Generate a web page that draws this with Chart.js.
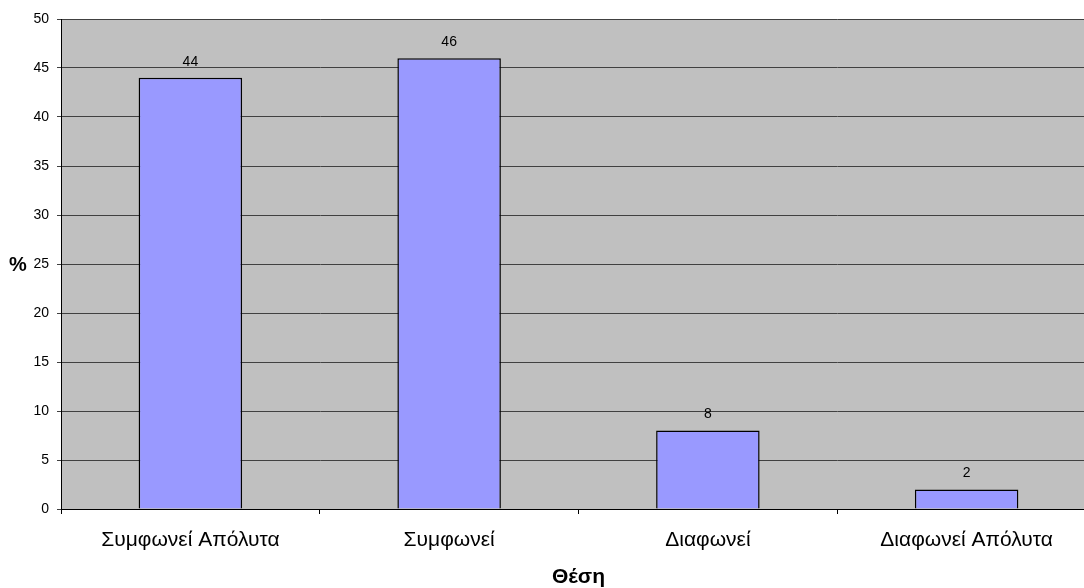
<!DOCTYPE html>
<html>
<head>
<meta charset="utf-8">
<script src="https://cdn.jsdelivr.net/npm/chart.js@4/dist/chart.umd.min.js"></script>
<style>
  html, body { margin: 0; padding: 0; background: #fff; overflow: hidden; }
  #wrap { width: 1096px; height: 588px; position: relative; }
</style>
</head>
<body>
<div id="wrap"><canvas id="chart"></canvas></div>
<script>
const categories = ['Συμφωνεί Απόλυτα', 'Συμφωνεί', 'Διαφωνεί', 'Διαφωνεί Απόλυτα'];
const percentages = [44, 46, 8, 2];
const yTicks = [0, 5, 10, 15, 20, 25, 30, 35, 40, 45, 50];
const xTitle = 'Θέση';
const yTitle = '%';

const FONT = "'Liberation Sans', Arial, sans-serif";

// Value labels above each bar and the horizontal "%" axis title
const annotate = {
  id: 'annotate',
  afterDatasetsDraw(chart) {
    const ctx = chart.ctx;
    const meta = chart.getDatasetMeta(0);
    ctx.save();
    ctx.fillStyle = '#000';
    ctx.font = '14px ' + FONT;
    ctx.textAlign = 'center';
    ctx.textBaseline = 'middle';
    meta.data.forEach((bar, i) => {
      ctx.fillText(String(chart.data.datasets[0].data[i]), bar.x, bar.y - 16);
    });
    const area = chart.chartArea;
    ctx.font = 'bold 20px ' + FONT;
    ctx.fillText(yTitle, area.left - 43, (area.top + area.bottom) / 2 + 1);
    ctx.restore();
  }
};

new Chart(document.getElementById('chart'), {
  type: 'bar',
  data: {
    labels: categories,
    datasets: [{
      data: percentages,
      backgroundColor: '#9999FF',
      borderColor: '#000',
      borderWidth: 1.5,
      barPercentage: 0.4,
      categoryPercentage: 1.0
    }]
  },
  options: {
    responsive: true,
    maintainAspectRatio: false,
    animation: false,
    layout: { padding: { top: 19, left: 0, right: 0, bottom: 0 } },
    plugins: {
      legend: { display: false },
      tooltip: { enabled: false }
    },
    scales: {
      x: {
        afterFit(scale) { scale.height = 79; },
        grid: {
          drawOnChartArea: false,
          drawTicks: true,
          tickLength: 5,
          color: '#000',
          offset: true
        },
        border: { display: true, color: '#000', width: 1 },
        ticks: {
          color: '#000',
          font: { family: FONT, size: 21 },
          padding: 14,
          maxRotation: 0,
          autoSkip: false
        },
        title: {
          display: true,
          text: xTitle,
          color: '#000',
          font: { family: FONT, size: 21, weight: 'bold', lineHeight: 1.0 },
          padding: { top: 0, bottom: 0 }
        }
      },
      y: {
        min: yTicks[0],
        max: yTicks[yTicks.length - 1],
        afterFit(scale) { scale.width = 61; },
        afterBuildTicks(scale) { scale.ticks = yTicks.map(v => ({ value: v })); },
        grid: {
          color: '#404040',
          drawTicks: true,
          tickLength: 4,
          lineWidth: 1
        },
        border: { display: true, color: '#000', width: 1 },
        ticks: {
          color: '#000',
          font: { family: FONT, size: 14 },
          padding: 8
        }
      }
    }
  },
  plugins: [
    {
      id: 'plotBackground',
      beforeDraw(chart) {
        const { ctx, chartArea: a } = chart;
        ctx.save();
        ctx.fillStyle = '#C0C0C0';
        ctx.fillRect(a.left, a.top, a.right - a.left, a.bottom - a.top);
        ctx.restore();
      }
    },
    annotate
  ]
});
</script>
</body>
</html>
